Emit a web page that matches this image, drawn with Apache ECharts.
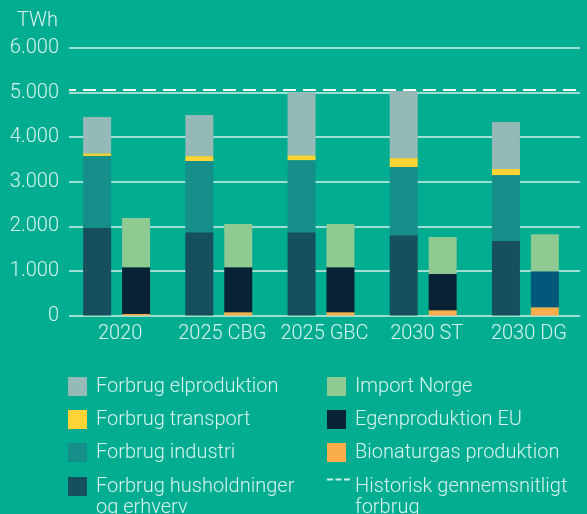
<!DOCTYPE html>
<html>
<head>
<meta charset="UTF-8">
<title>gas_forbrug</title>
<script src="https://cdn.jsdelivr.net/npm/echarts@6/dist/echarts.min.js"></script>
<style>
  html, body { margin: 0; padding: 0; background: #00ad91; }
  #main { width: 587px; height: 514px; }
</style>
</head>
<body>
<div id="main"></div>
<script>
var categories = ['2020', '2025 CBG', '2025 GBC', '2030 ST', '2030 DG'];
// forbrug (venstre soejle)
var husholdninger = [1960, 1870, 1870, 1800, 1670];
var industri = [1620, 1595, 1615, 1530, 1480];
var transport = [60, 110, 110, 200, 135];
var elproduktion = [810, 920, 1415, 1505, 1055];
// forsyning (hoejre soejle)
var bionaturgas = [35, 75, 75, 120, 185];
var egenproduktionEU = [1050, 1010, 1010, 810, 810];
var importNorge = [1100, 965, 965, 830, 830];
var historisk = 5070;
var yTicks = [0, 1000, 2000, 3000, 4000, 5000, 6000];

var txt = '#d8f3ed';
var font = 'Roboto';

function dots(v) {
  return String(v).replace(/\B(?=(\d{3})+(?!\d))/g, '.');
}

// soejlerne tegnes i et skjult grid, lidt forskudt til venstre som i originalen
function bar(name, data, stack, color) {
  return {
    name: name,
    type: 'bar',
    xAxisIndex: 1,
    yAxisIndex: 1,
    stack: stack,
    barWidth: 28,
    barGap: '39%',
    itemStyle: { color: color },
    data: data
  };
}

// 2030 DG egenproduktion har en anden farve
var euData = egenproduktionEU.map(function (v, i) {
  return i === 4 ? { value: v, itemStyle: { color: '#02587a' } } : v;
});

function legend(left, top, items, formatter, w, padLeft) {
  return {
    orient: 'vertical',
    left: left,
    top: top,
    height: 200,
    padding: 0,
    itemWidth: w || 19,
    itemHeight: 19,
    itemGap: 12,
    icon: 'rect',
    symbolKeepAspect: true,
    selectedMode: false,
    textStyle: { color: txt, fontSize: 20, fontWeight: 300, lineHeight: 21, padding: [0, 0, 0, padLeft == null ? 4 : padLeft] },
    data: items,
    formatter: formatter
  };
}

var myChart = echarts.init(document.getElementById('main'));

var option = {
  backgroundColor: '#00ad91',
  animation: false,
  textStyle: { fontFamily: font },
  title: {
    text: 'TWh',
    left: 12,
    top: 6,
    textStyle: { color: txt, fontSize: 20, fontWeight: 300, fontFamily: font }
  },
  grid: [
    { left: 69, right: 7, top: 48, bottom: 198.5 },
    { left: 65.5, right: 10.5, top: 48, bottom: 198.5 }
  ],
  xAxis: [
    {
      type: 'category',
      data: categories,
      axisLine: { show: false },
      axisTick: { show: false },
      axisLabel: { color: txt, fontSize: 20, fontWeight: 300, margin: 8, interval: 0 }
    },
    { type: 'category', gridIndex: 1, data: categories, show: false }
  ],
  yAxis: [
    {
      type: 'value',
      min: yTicks[0],
      max: yTicks[yTicks.length - 1],
      interval: 1000,
      axisLine: { show: false },
      axisTick: { show: false },
      axisLabel: { color: txt, fontSize: 20, fontWeight: 300, margin: 10, formatter: dots },
      splitLine: { lineStyle: { color: '#d2f1ea', width: 1.5 } }
    },
    {
      type: 'value',
      gridIndex: 1,
      min: yTicks[0],
      max: yTicks[yTicks.length - 1],
      interval: 1000,
      show: false
    }
  ],
  legend: [
    legend(68, 376, ['Forbrug elproduktion', 'Forbrug transport', 'Forbrug industri']),
    // tom foerste linje, saa teksten starter ud for ikonet
    legend(68, 455, ['Forbrug husholdninger og erhverv'],
      function () { return ' \nForbrug husholdninger\nog erhverv'; }),
    legend(327, 376, ['Import Norge', 'Egenproduktion EU', 'Bionaturgas produktion']),
    legend(327, 455, [{
      name: 'Historisk gennemsnitligt forbrug',
      icon: 'path://M0,0h6v2h-6zM8.5,0h6v2h-6zM17,0h6v2h-6zM0,16h0.01v0.01h-0.01z',
      itemStyle: { color: '#ffffff' }
    }], function () { return ' \nHistorisk gennemsnitligt\nforbrug'; }, 23, 0)
  ],
  series: [
    bar('Forbrug husholdninger og erhverv', husholdninger, 'forbrug', '#16505c'),
    bar('Forbrug industri', industri, 'forbrug', '#168e8a'),
    bar('Forbrug transport', transport, 'forbrug', '#fdd335'),
    bar('Forbrug elproduktion', elproduktion, 'forbrug', '#95b9b7'),
    bar('Bionaturgas produktion', bionaturgas, 'forsyning', '#f8ac4a'),
    bar('Egenproduktion EU', euData, 'forsyning', '#082336'),
    bar('Import Norge', importNorge, 'forsyning', '#8fca93'),
    {
      name: 'Historisk gennemsnitligt forbrug',
      type: 'scatter',
      data: [],
      itemStyle: { color: '#ffffff' },
      markLine: {
        silent: true,
        symbol: 'none',
        label: { show: false },
        lineStyle: { color: '#ffffff', width: 2.2, type: [13, 7], dashOffset: 6 },
        data: [{ yAxis: historisk }]
      }
    }
  ]
};
myChart.setOption(option);
</script>
</body>
</html>
